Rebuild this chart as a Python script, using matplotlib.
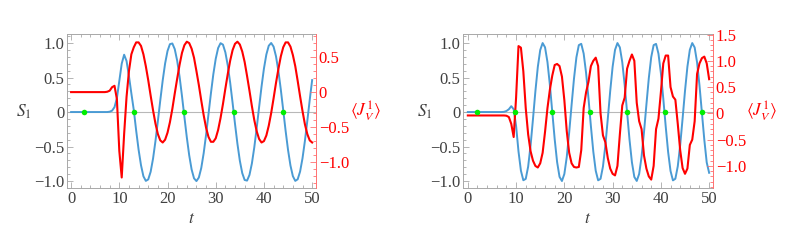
import numpy as np
import matplotlib
matplotlib.use('Agg')
import matplotlib.pyplot as plt
from matplotlib.ticker import MultipleLocator, FixedLocator, FixedFormatter

plt.rcParams['font.family'] = ['Liberation Serif', 'DejaVu Serif']
plt.rcParams['mathtext.fontset'] = 'stix'

# time grid, step 0.5
t = np.arange(0, 50.25, 0.5)

# left panel
s1_left = [0.0] * 16 + [
    0.005, 0.02, 0.07, 0.2, 0.45, 0.7, 0.83, 0.74, 0.52, 0.27,
    0.03, -0.27, -0.545, -0.77, -0.93, -0.997, -0.976, -0.865, -0.674, -0.42,
    -0.13, 0.17, 0.457, 0.703, 0.884, 0.983, 0.993, 0.911, 0.745, 0.512,
    0.232, -0.07, -0.365, -0.627, -0.832, -0.96, -1.0, -0.948, -0.81, -0.596,
    -0.329, -0.031, 0.269, 0.546, 0.771, 0.927, 0.997, 0.976, 0.864, 0.674,
    0.423, 0.132, -0.172, -0.459, -0.704, -0.884, -0.984, -0.993, -0.911, -0.745,
    -0.511, -0.23, 0.072, 0.367, 0.629, 0.833, 0.96, 1.0, 0.947, 0.808,
    0.593, 0.326, 0.028, -0.274, -0.549, -0.774, -0.928, -0.997, -0.974, -0.862,
    -0.67, -0.418, -0.127, 0.176, 0.463]
jv_left = [0.0] * 15 + [
    0.005, 0.02, 0.07, 0.09, -0.1, -0.84, -1.22, -0.6, -0.07, 0.3, 0.54,
    0.64, 0.71, 0.71, 0.66, 0.54, 0.37, 0.17, -0.05, -0.26, -0.45,
    -0.6, -0.69, -0.72, -0.68, -0.58, -0.43, -0.24, -0.02, 0.19, 0.39,
    0.56, 0.67, 0.72, 0.7, 0.62, 0.49, 0.3, 0.1, -0.12, -0.33,
    -0.51, -0.64, -0.71, -0.71, -0.66, -0.54, -0.37, -0.17, 0.05, 0.26,
    0.45, 0.6, 0.69, 0.72, 0.68, 0.58, 0.43, 0.23, 0.02, -0.2,
    -0.4, -0.56, -0.67, -0.72, -0.7, -0.62, -0.48, -0.3, -0.09, 0.13,
    0.33, 0.51, 0.64, 0.71, 0.71, 0.65, 0.53, 0.37, 0.16, -0.06,
    -0.27, -0.46, -0.6, -0.69, -0.72]
dots_left = [2.76, 13.0, 23.4, 33.7, 44.0]

# right panel
s1_right = [0.0] * 15 + [
    0.003, 0.015, 0.04, 0.085, 0.04,
    -0.201, -0.571, -0.849, -0.988, -0.968, -0.79, -0.485, -0.101, 0.301, 0.652,
    0.898, 0.999, 0.937, 0.724, 0.394, 0.0, -0.395, -0.725, -0.938, -0.999,
    -0.897, -0.651, -0.297, 0.103, 0.486, 0.793, 0.969, 0.988, 0.847, 0.569,
    0.199, -0.204, -0.574, -0.85, -0.989, -0.967, -0.789, -0.482, -0.098, 0.302,
    0.655, 0.9, 0.999, 0.936, 0.722, 0.391, -0.005, -0.399, -0.728, -0.94,
    -0.998, -0.896, -0.647, -0.294, 0.106, 0.491, 0.795, 0.969, 0.987, 0.845,
    0.566, 0.194, -0.208, -0.577, -0.853, -0.99, -0.966, -0.786, -0.479, -0.094,
    0.307, 0.658, 0.901, 0.999, 0.935, 0.719, 0.386, -0.009, -0.402, -0.731,
    -0.88]
jv_right = [-0.04] * 16 + [
    -0.045, -0.07, -0.2, -0.45, 0.3, 1.28, 1.25, 0.8, 0.1, -0.4,
    -0.72, -0.9, -1.0, -1.03, -0.95, -0.75, -0.35, 0.1, 0.45, 0.72,
    0.92, 0.94, 0.9, 0.7, 0.25, -0.34, -0.75, -0.95, -1.02, -1.03,
    -1.02, -0.7, 0.1, 0.4, 0.6, 0.9, 1.0, 1.06, 0.9, 0.0,
    -0.42, -0.55, -0.85, -1.05, -1.15, -1.18, -1.0, -0.4, 0.15, 0.3,
    0.85, 1.0, 1.12, 1.0, 0.2, -0.15, -0.3, -0.8, -1.05, -1.2,
    -1.26, -1.0, -0.3, -0.1, 0.4, 0.95, 1.1, 1.1, 0.5, 0.32,
    0.26, -0.2, -0.7, -1.04, -1.15, -1.05, -0.6, -0.5, -0.15, 0.75,
    0.95, 1.05, 1.08, 0.95, 0.65]
dots_right = [2.0, 9.75, 17.5, 25.3, 33.05, 40.8, 48.5]

s1_ticks = [-1.0, -0.5, 0, 0.5, 1.0]
s1_labels = ['\u22121.0', '\u22120.5', '0', '0.5', '1.0']
jv_ticks_left = [-1.0, -0.5, 0, 0.5]
jv_labels_left = ['\u22121.0', '\u22120.5', '0', '0.5']
jv_ticks_right = [-1.0, -0.5, 0, 0.5, 1.0, 1.5]
jv_labels_right = ['\u22121.0', '\u22120.5', '0', '0.5', '1.0', '1.5']
t_ticks = [0, 10, 20, 30, 40, 50]

W, H = 793, 240
BLUE = '#4a9bd4'
RED = '#ff0000'
FRAME = '#a8a8a8'
TXT = '#404040'
PINK = '#ff7070'


def px(x, y):
    return x / W, 1 - y / H


def draw_panel(fig, x0, x1, s1, jv, dots, xlim, jv_lim, jv_ticks, jv_labels, labx):
    left, bottom = px(x0, 188)
    ax = fig.add_axes([left, bottom, (x1 - x0) / W, 154 / H])
    ax2 = ax.twinx()

    ax.axhline(0, color='#b8b8b8', lw=0.8, zorder=1)
    ax.plot(t, s1, color=BLUE, lw=1.4, zorder=2)
    ax2.plot(t, jv, color=RED, lw=1.5, zorder=2)
    ax2.plot(dots, np.zeros(len(dots)), 'o', color='#00ee00', ms=4,
             mec='none', transform=ax.transData, zorder=5)

    ax.set_xlim(*xlim)
    ax.set_ylim(-1.10, 1.13)
    ax2.set_ylim(*jv_lim)

    ax.xaxis.set_major_locator(FixedLocator(t_ticks))
    ax.xaxis.set_minor_locator(MultipleLocator(2))
    ax.yaxis.set_major_locator(FixedLocator(s1_ticks))
    ax.yaxis.set_major_formatter(FixedFormatter(s1_labels))
    ax.yaxis.set_minor_locator(MultipleLocator(0.1))
    ax2.yaxis.set_major_locator(FixedLocator(jv_ticks))
    ax2.yaxis.set_major_formatter(FixedFormatter(jv_labels))
    ax2.yaxis.set_minor_locator(MultipleLocator(0.1))

    ax.tick_params(which='both', direction='in', top=True, right=False,
                   color=FRAME, width=0.6, labelcolor=TXT, labelsize=12, pad=2)
    ax.tick_params(which='major', length=4)
    ax.tick_params(which='minor', length=2)
    ax2.tick_params(which='both', direction='in', color=PINK, width=0.6,
                    labelcolor=RED, labelsize=12, pad=2)
    ax2.tick_params(which='major', length=4)
    ax2.tick_params(which='minor', length=2)

    for side in ('left', 'top', 'bottom'):
        ax.spines[side].set_color(FRAME)
        ax.spines[side].set_linewidth(0.7)
        ax2.spines[side].set_visible(False)
    ax.spines['right'].set_visible(False)
    ax2.spines['right'].set_color(PINK)
    ax2.spines['right'].set_linewidth(0.7)

    sx, tx, jx = labx
    fig.text(*px(sx, 112), r'$S_1$', color=TXT, fontsize=12.5,
             ha='center', va='center')
    fig.text(*px(tx, 219), r'$t$', color=TXT, fontsize=12.5,
             ha='center', va='center')
    fig.text(*px(jx, 111), r'$\langle J_V^1\rangle$', color=RED,
             fontsize=12.5, ha='center', va='center')
    return ax, ax2


fig = plt.figure(figsize=(W / 100, H / 100), dpi=100)
draw_panel(fig, 67, 316, s1_left, jv_left, dots_left, (-0.85, 50.8),
           (-1.37, 0.83), jv_ticks_left, jv_labels_left, (24, 192, 366))
draw_panel(fig, 463, 713, s1_right, jv_right, dots_right, (-1.0, 50.8),
           (-1.42, 1.51), jv_ticks_right, jv_labels_right, (425, 588, 762))
fig.savefig('out.png', dpi=100)
